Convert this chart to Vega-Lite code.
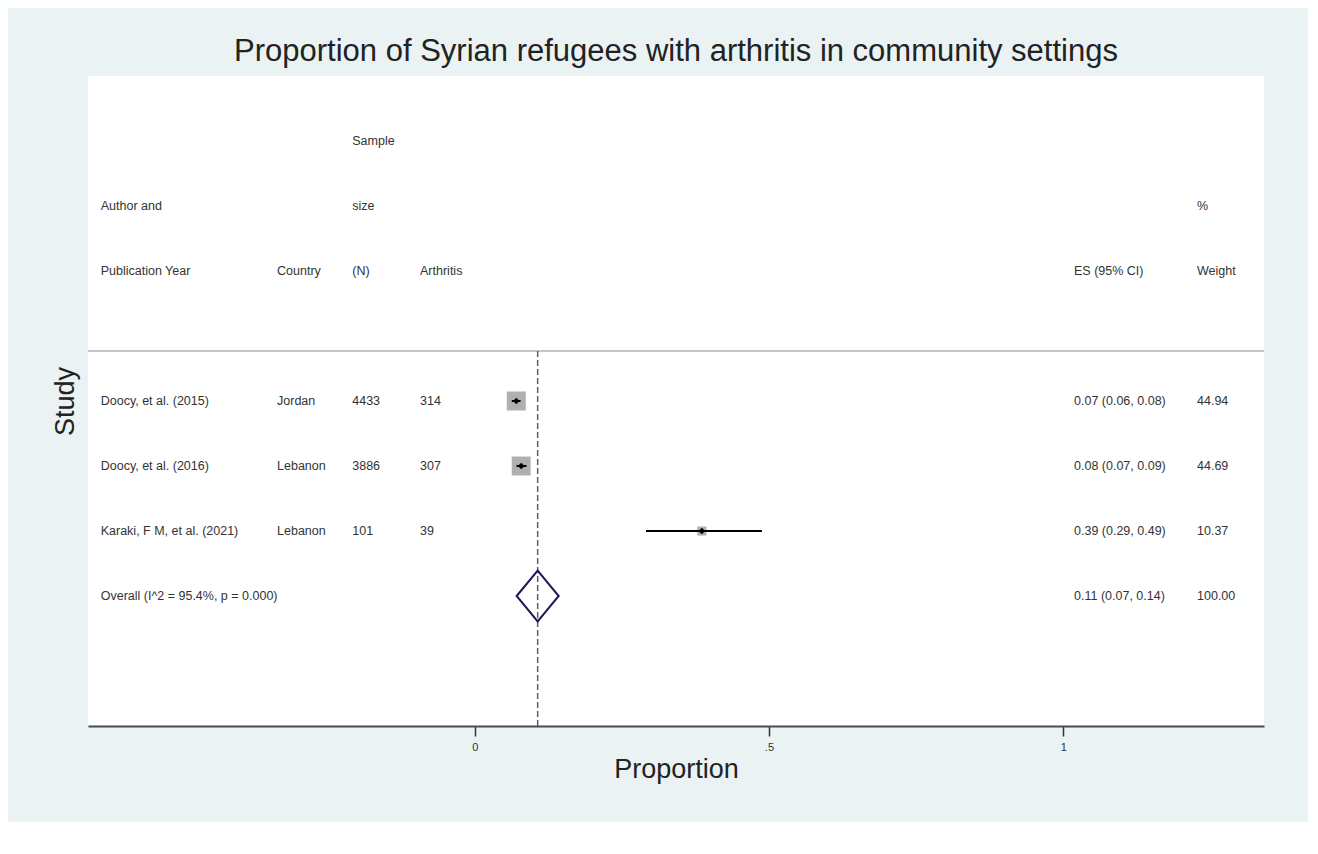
{
  "$schema": "https://vega.github.io/schema/vega-lite/v6.json",
  "width": 1176,
  "height": 650,
  "autosize": {"type": "none"},
  "padding": {"left": 88, "top": 76, "right": 54, "bottom": 128},
  "background": "white",
  "config": {"view": {"stroke": null}},
  "title": {
    "text": "Proportion of Syrian refugees with arthritis in community settings",
    "font": "Liberation Sans",
    "fontSize": 31,
    "fontWeight": "normal",
    "color": "#222222",
    "anchor": "middle",
    "frame": "group",
    "baseline": "alphabetic",
    "offset": -84
  },
  "datasets": {
    "table": [
      {"row": 1, "n": "Sample"},
      {"row": 2, "author": "Author and", "n": "size", "weight_txt": "%"},
      {"row": 3, "author": "Publication Year", "country": "Country", "n": "(N)", "cases": "Arthritis", "es_ci": "ES (95% CI)", "weight_txt": "Weight"},
      {"row": 5, "type": "study", "author": "Doocy, et al. (2015)", "country": "Jordan", "n": "4433", "cases": "314", "es": 0.0707, "lo": 0.063, "hi": 0.078, "es_ci": "0.07 (0.06, 0.08)", "weight": 44.94, "weight_txt": "44.94"},
      {"row": 6, "type": "study", "author": "Doocy, et al. (2016)", "country": "Lebanon", "n": "3886", "cases": "307", "es": 0.079, "lo": 0.071, "hi": 0.088, "es_ci": "0.08 (0.07, 0.09)", "weight": 44.69, "weight_txt": "44.69"},
      {"row": 7, "type": "study", "author": "Karaki, F M, et al. (2021)", "country": "Lebanon", "n": "101", "cases": "39", "es": 0.386, "lo": 0.291, "hi": 0.488, "es_ci": "0.39 (0.29, 0.49)", "weight": 10.37, "weight_txt": "10.37"},
      {"row": 8, "type": "overall", "author": "Overall  (I^2 = 95.4%, p = 0.000)", "es": 0.107, "lo": 0.071, "hi": 0.142, "es_ci": "0.11 (0.07, 0.14)", "weight_txt": "100.00"}
    ]
  },
  "data": {"name": "table"},
  "encoding": {
    "y": {
      "field": "row",
      "type": "quantitative",
      "scale": {"domain": [0, 10], "reverse": true, "nice": false, "zero": false},
      "axis": {
        "title": "Study",
        "labels": false,
        "ticks": false,
        "domain": false,
        "grid": false,
        "titleFont": "Liberation Sans",
        "titleFontSize": 27,
        "titleFontWeight": "normal",
        "titleColor": "#222222",
        "titlePadding": 9,
        "zindex": 1
      }
    }
  },
  "layer": [
    {
      "transform": [{"filter": "datum.type == 'overall'"}],
      "mark": {"type": "rect", "color": "#eaf2f3", "opacity": 1},
      "encoding": {
        "x": {
          "datum": -0.793,
          "type": "quantitative",
          "scale": {"domain": [-0.6571, 1.3412], "nice": false, "zero": false},
          "axis": {
            "title": "Proportion",
            "values": [0, 0.5, 1],
            "labelExpr": "datum.value == 0.5 ? '.5' : format(datum.value, '~g')",
            "grid": false,
            "domainColor": "#4a4a4a",
            "domainWidth": 2,
            "tickColor": "#333333",
            "tickWidth": 1.5,
            "tickSize": 10,
            "labelFont": "Liberation Sans",
            "labelFontSize": 11,
            "labelColor": "#333333",
            "labelPadding": 5,
            "titleFont": "Liberation Sans",
            "titleFontSize": 27,
            "titleFontWeight": "normal",
            "titleColor": "#222222",
            "titlePadding": 4,
            "zindex": 1
          }
        },
        "x2": {"datum": 1.416},
        "y": {"datum": -1.046, "type": "quantitative"},
        "y2": {"datum": 11.477}
      }
    },
    {
      "transform": [{"filter": "datum.type == 'overall'"}],
      "mark": {"type": "rect", "color": "white", "opacity": 1},
      "encoding": {
        "x": {"datum": -0.6571, "type": "quantitative"},
        "x2": {"datum": 1.3412},
        "y": {"datum": 0, "type": "quantitative"},
        "y2": {"datum": 10}
      }
    },
    {
      "transform": [{"filter": "datum.type == 'overall'"}],
      "mark": {"type": "rule", "color": "#c4c4c4", "strokeWidth": 2},
      "encoding": {"y": {"datum": 4.23, "type": "quantitative"}}
    },
    {
      "transform": [{"filter": "datum.type == 'overall'"}],
      "mark": {"type": "rule", "color": "#7a4d6c", "strokeWidth": 1.5, "strokeDash": [6, 3]},
      "encoding": {
        "x": {"field": "es", "type": "quantitative"},
        "y": {"datum": 4.23, "type": "quantitative"},
        "y2": {"datum": 10}
      }
    },
    {
      "transform": [{"filter": "datum.type == 'study'"}],
      "mark": {"type": "point", "shape": "square", "filled": true, "color": "#b0b0b0", "opacity": 1},
      "encoding": {
        "x": {"field": "es", "type": "quantitative"},
        "size": {"field": "weight", "type": "quantitative", "scale": {"domain": [0, 44.94], "range": [0, 361], "zero": true}, "legend": null}
      }
    },
    {
      "transform": [{"filter": "datum.type == 'study'"}],
      "mark": {"type": "rule", "color": "black", "strokeWidth": 2},
      "encoding": {
        "x": {"field": "lo", "type": "quantitative"},
        "x2": {"field": "hi"}
      }
    },
    {
      "transform": [{"filter": "datum.type == 'study'"}],
      "mark": {"type": "point", "shape": "diamond", "filled": true, "color": "black", "opacity": 1, "size": 45},
      "encoding": {
        "x": {"field": "es", "type": "quantitative"}
      }
    },
    {
      "transform": [{"filter": "datum.type == 'overall'"}],
      "mark": {"type": "point", "shape": "M-0.824,0L0,-1L0.824,0L0,1Z", "filled": false, "color": "#1c1a5e", "strokeWidth": 2, "opacity": 1, "size": 2601},
      "encoding": {
        "x": {"field": "es", "type": "quantitative"}
      }
    },
    {
      "transform": [{"filter": "isValid(datum.author)"}],
      "mark": {"type": "text", "align": "left", "baseline": "middle", "font": "Liberation Sans", "fontSize": 12.5, "color": "#333333"},
      "encoding": {"x": {"datum": -0.6355, "type": "quantitative"}, "text": {"field": "author"}}
    },
    {
      "transform": [{"filter": "isValid(datum.country)"}],
      "mark": {"type": "text", "align": "left", "baseline": "middle", "font": "Liberation Sans", "fontSize": 12.5, "color": "#333333"},
      "encoding": {"x": {"datum": -0.3359, "type": "quantitative"}, "text": {"field": "country"}}
    },
    {
      "transform": [{"filter": "isValid(datum.n)"}],
      "mark": {"type": "text", "align": "left", "baseline": "middle", "font": "Liberation Sans", "fontSize": 12.5, "color": "#333333"},
      "encoding": {"x": {"datum": -0.2081, "type": "quantitative"}, "text": {"field": "n"}}
    },
    {
      "transform": [{"filter": "isValid(datum.cases)"}],
      "mark": {"type": "text", "align": "left", "baseline": "middle", "font": "Liberation Sans", "fontSize": 12.5, "color": "#333333"},
      "encoding": {"x": {"datum": -0.0929, "type": "quantitative"}, "text": {"field": "cases"}}
    },
    {
      "transform": [{"filter": "isValid(datum.es_ci)"}],
      "mark": {"type": "text", "align": "left", "baseline": "middle", "font": "Liberation Sans", "fontSize": 12.5, "color": "#333333"},
      "encoding": {"x": {"datum": 1.0184, "type": "quantitative"}, "text": {"field": "es_ci"}}
    },
    {
      "transform": [{"filter": "isValid(datum.weight_txt)"}],
      "mark": {"type": "text", "align": "left", "baseline": "middle", "font": "Liberation Sans", "fontSize": 12.5, "color": "#333333"},
      "encoding": {"x": {"datum": 1.2274, "type": "quantitative"}, "text": {"field": "weight_txt"}}
    }
  ]
}
